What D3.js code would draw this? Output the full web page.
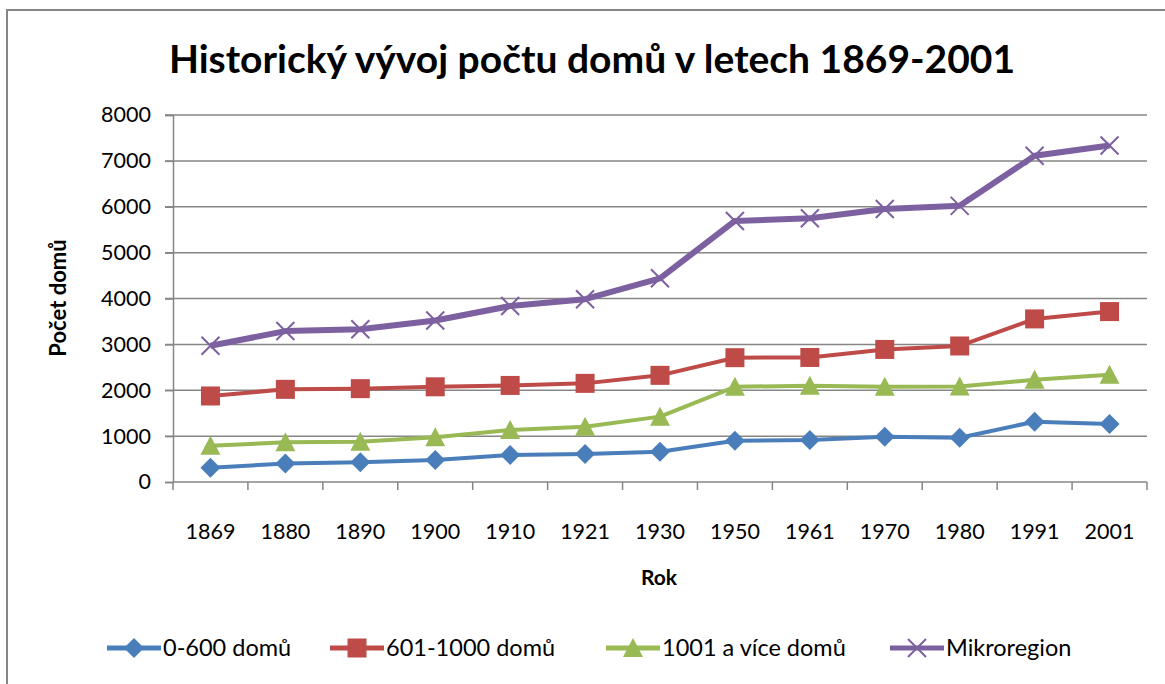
<!DOCTYPE html>
<head>
  <meta charset="utf-8">
  <script src="https://d3js.org/d3.v7.min.js"></script>
  <style>
    body {
      margin: 0;
      background: #fff;
      font-family: Lato, "Open Sans", sans-serif;
    }
    .grid line { stroke: #868686; stroke-width: 1.5; }
    .axis path, .axis line { stroke: #868686; stroke-width: 1.5; fill: none; }
    .axis text { fill: #000; font-size: 21.5px; font-family: Lato, sans-serif; }
  </style>
</head>

<body>
<script>

var years = ["1869", "1880", "1890", "1900", "1910", "1921", "1930", "1950", "1961", "1970", "1980", "1991", "2001"];
var yTicks = [0, 1000, 2000, 3000, 4000, 5000, 6000, 7000, 8000];

var small  = [310, 405, 430, 480, 590, 610, 660, 900, 915, 985, 965, 1315, 1265];
var medium = [1875, 2020, 2035, 2075, 2105, 2150, 2325, 2710, 2715, 2890, 2965, 3555, 3715];
var large  = [790, 865, 880, 975, 1135, 1205, 1425, 2075, 2100, 2075, 2080, 2230, 2340];
var micro  = [2970, 3290, 3330, 3520, 3835, 3985, 4440, 5690, 5750, 5950, 6020, 7110, 7335];

var series = [
  {name: "0-600 domů", values: small, color: "#4A7EBB", width: 4, marker: "diamond"},
  {name: "601-1000 domů", values: medium, color: "#BE4B48", width: 4, marker: "square"},
  {name: "1001 a více domů", values: large, color: "#98B954", width: 4, marker: "triangle"},
  {name: "Mikroregion", values: micro, color: "#7D60A0", width: 6, marker: "x"}
];

var W = 1165, H = 684;
var margin = {top: 115, right: 18, bottom: 202, left: 173},
    width = 1147 - margin.left,
    height = 482 - margin.top;

var svg = d3.select("body").append("svg")
    .attr("width", W)
    .attr("height", H);

// chart frame (continues past the picture edge)
svg.append("rect")
    .attr("x", 7).attr("y", 10)
    .attr("width", W + 20).attr("height", H + 20)
    .attr("fill", "none")
    .attr("stroke", "#868686")
    .attr("stroke-width", 2);

var g = svg.append("g")
    .attr("transform", "translate(" + margin.left + "," + margin.top + ")");

var x = d3.scaleBand().domain(years).range([0, width]);
var y = d3.scaleLinear().domain([0, 8000]).range([height, 0]);

// gridlines
g.append("g").attr("class", "grid")
  .selectAll("line")
  .data(yTicks.slice(1))
  .enter().append("line")
    .attr("x1", -8).attr("x2", width)
    .attr("y1", function(d) { return y(d); })
    .attr("y2", function(d) { return y(d); });

var yAxis = g.append("g").attr("class", "axis")
    .call(d3.axisLeft(y).tickValues(yTicks).tickSize(8).tickPadding(14).tickFormat(d3.format("d")));

var xAxis = g.append("g").attr("class", "axis")
    .attr("transform", "translate(0," + height + ")")
    .call(d3.axisBottom(x).tickSize(0).tickPadding(42));
xAxis.select(".domain").remove();

// baseline + category dividers
g.append("line")
    .attr("x1", 0).attr("x2", width)
    .attr("y1", height).attr("y2", height)
    .attr("stroke", "#868686").attr("stroke-width", 1.5);
g.selectAll(".divider")
    .data(years.concat(["end"]))
    .enter().append("line")
    .attr("class", "divider")
    .attr("x1", function(d, i) { return i * x.step(); })
    .attr("x2", function(d, i) { return i * x.step(); })
    .attr("y1", height).attr("y2", height + 8)
    .attr("stroke", "#868686").attr("stroke-width", 1.5);

function drawMarker(sel, type, color) {
  if (type === "diamond") {
    sel.append("path").attr("d", "M0,-10L10,0L0,10L-10,0Z").attr("fill", color);
  } else if (type === "square") {
    sel.append("rect").attr("x", -9.5).attr("y", -9.5).attr("width", 19).attr("height", 19).attr("fill", color);
  } else if (type === "triangle") {
    sel.append("path").attr("d", "M0,-10L10,9L-10,9Z").attr("fill", color);
  } else {
    sel.append("path").attr("d", "M-9,-9L9,9M-9,9L9,-9").attr("stroke", color).attr("stroke-width", 2).attr("fill", "none");
  }
}

var line = d3.line()
    .x(function(d, i) { return x(years[i]) + x.bandwidth() / 2; })
    .y(function(d) { return y(d); });

series.forEach(function(s) {
  g.append("path")
      .datum(s.values)
      .attr("fill", "none")
      .attr("stroke", s.color)
      .attr("stroke-width", s.width)
      .attr("stroke-linejoin", "round")
      .attr("d", line);

  s.values.forEach(function(v, i) {
    var m = g.append("g")
        .attr("transform", "translate(" + (x(years[i]) + x.bandwidth() / 2) + "," + y(v) + ")");
    drawMarker(m, s.marker, s.color);
  });
});

// titles
svg.append("text")
    .attr("x", 592).attr("y", 73)
    .attr("text-anchor", "middle")
    .style("font-size", "39px").style("font-weight", "bold")
    .text("Historický vývoj počtu domů v letech 1869-2001");

svg.append("text")
    .attr("transform", "translate(66,298) rotate(-90)")
    .attr("text-anchor", "middle")
    .style("font-size", "22px").style("font-weight", "bold")
    .text("Počet domů");

svg.append("text")
    .attr("x", 659).attr("y", 585)
    .attr("text-anchor", "middle")
    .style("font-size", "21px").style("font-weight", "bold")
    .text("Rok");

// legend
var legendX = [107, 330, 606, 890];
var legend = svg.selectAll(".legend")
    .data(series)
  .enter().append("g")
    .attr("class", "legend")
    .attr("transform", function(d, i) { return "translate(" + legendX[i] + ",648)"; });

legend.append("line")
    .attr("x1", 0).attr("x2", 54)
    .attr("stroke", function(d) { return d.color; })
    .attr("stroke-width", 5);

legend.each(function(d) {
  var m = d3.select(this).append("g").attr("transform", "translate(27,0)");
  drawMarker(m, d.marker, d.color);
});

legend.append("text")
    .attr("x", 56)
    .attr("dy", "0.35em")
    .style("font-size", "23.5px")
    .text(function(d) { return d.name; });

</script>
</body>
